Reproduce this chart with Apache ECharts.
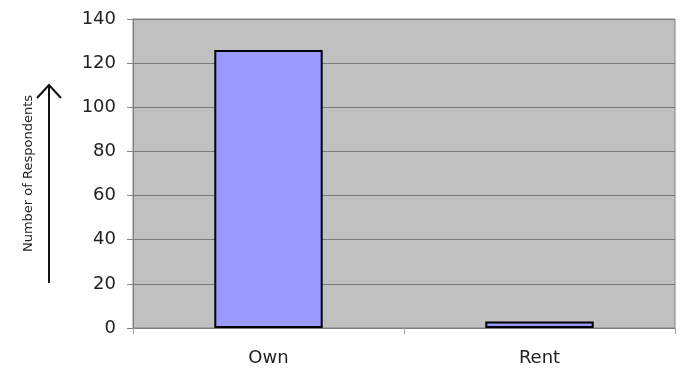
<!DOCTYPE html>
<html>
<head>
<meta charset="utf-8">
<script src="https://cdn.jsdelivr.net/npm/echarts@6/dist/echarts.min.js"></script>
<style>
html,body{margin:0;padding:0;background:#fff;}
#chart{width:681px;height:371px;}
</style>
</head>
<body>
<div id="chart"></div>
<script>
const categories = ["Own", "Rent"];
const respondents = [126, 3];
const yTicks = [0, 20, 40, 60, 80, 100, 120, 140];

const chart = echarts.init(document.getElementById('chart'), null, {renderer: 'canvas'});
const font = '"DejaVu Sans", sans-serif';
chart.setOption({
  animation: false,
  backgroundColor: '#ffffff',
  grid: {
    left: 133, right: 6, top: 19, bottom: 43,
    show: true, backgroundColor: '#c0c0c0', borderColor: '#808080', borderWidth: 1
  },
  xAxis: {
    type: 'category',
    data: categories,
    axisLine: {lineStyle: {color: '#808080', width: 1}},
    axisTick: {show: true, length: 6, alignWithLabel: false, lineStyle: {color: '#a0a0a0'}},
    axisLabel: {color: '#222', fontSize: 18, fontFamily: font, margin: 21}
  },
  yAxis: {
    type: 'value',
    min: yTicks[0], max: yTicks[yTicks.length - 1], interval: 20,
    name: 'Number of Respondents',
    nameLocation: 'middle',
    nameRotate: 90,
    nameGap: 98,
    nameTextStyle: {color: '#222', fontSize: 13, fontFamily: font},
    axisLine: {show: true, lineStyle: {color: '#808080'}},
    axisTick: {show: true, length: 6, lineStyle: {color: '#808080'}},
    axisLabel: {color: '#222', fontSize: 18, fontFamily: font, margin: 17},
    splitLine: {show: true, lineStyle: {color: '#7a7a7a', width: 1}}
  },
  graphic: [
    {type: 'line', shape: {x1: 49, y1: 283, x2: 49, y2: 86}, style: {stroke: '#111', lineWidth: 2}},
    {type: 'polyline', shape: {points: [[37, 98], [49, 85], [61, 98]]}, style: {stroke: '#111', lineWidth: 2, fill: null}}
  ],
  series: [{
    type: 'bar',
    data: respondents,
    barWidth: '40%',
    itemStyle: {color: '#9999ff', borderColor: '#000', borderWidth: 2}
  }]
});
</script>
</body>
</html>
